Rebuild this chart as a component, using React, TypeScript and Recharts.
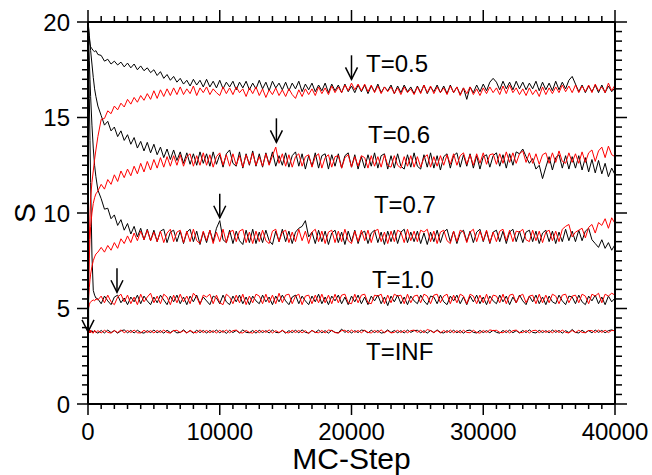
import { LineChart, Line, XAxis, YAxis, ReferenceDot, Label } from 'recharts'

// MC steps (dense at the start, then every 250)
const steps = [
  0, 50, 100, 150, 200, 300, 400, 500, 600, 750,
  1000, 1250, 1500, 1750, 2000, 2250, 2500, 2750,
  3000, 3250, 3500, 3750, 4000, 4250, 4500, 4750,
  5000, 5250, 5500, 5750, 6000, 6250, 6500, 6750,
  7000, 7250, 7500, 7750, 8000, 8250, 8500, 8750,
  9000, 9250, 9500, 9750, 10000, 10250, 10500, 10750,
  11000, 11250, 11500, 11750, 12000, 12250, 12500, 12750,
  13000, 13250, 13500, 13750, 14000, 14250, 14500, 14750,
  15000, 15250, 15500, 15750, 16000, 16250, 16500, 16750,
  17000, 17250, 17500, 17750, 18000, 18250, 18500, 18750,
  19000, 19250, 19500, 19750, 20000, 20250, 20500, 20750,
  21000, 21250, 21500, 21750, 22000, 22250, 22500, 22750,
  23000, 23250, 23500, 23750, 24000, 24250, 24500, 24750,
  25000, 25250, 25500, 25750, 26000, 26250, 26500, 26750,
  27000, 27250, 27500, 27750, 28000, 28250, 28500, 28750,
  29000, 29250, 29500, 29750, 30000, 30250, 30500, 30750,
  31000, 31250, 31500, 31750, 32000, 32250, 32500, 32750,
  33000, 33250, 33500, 33750, 34000, 34250, 34500, 34750,
  35000, 35250, 35500, 35750, 36000, 36250, 36500, 36750,
  37000, 37250, 37500, 37750, 38000, 38250, 38500, 38750,
  39000, 39250, 39500, 39750, 40000,
]

// T=0.5
const blackT05 = [
  20, 19.55, 19.15, 18.85, 18.7, 18.6, 18.5, 18.45, 18.5, 18.3,
  18.25, 17.95, 18.05, 17.8, 17.95, 17.75, 17.9, 17.65,
  17.85, 17.6, 17.8, 17.5, 17.7, 17.45, 17.6, 17.35,
  17.5, 17.2, 17.4, 17.05, 17.25, 16.95, 17.15, 16.85,
  17.05, 16.75, 16.95, 16.65, 17.0, 16.7, 16.95, 16.6,
  17.0, 16.6, 16.9, 16.55, 16.95, 16.5, 16.85, 16.6,
  16.9, 16.45, 16.85, 16.55, 16.9, 16.45, 16.8, 16.5,
  16.95, 16.5, 16.85, 16.4, 16.9, 16.55, 16.8, 16.45,
  16.85, 16.4, 16.8, 16.5, 16.9, 16.35, 16.75, 16.45,
  16.8, 16.35, 16.7, 16.4, 16.8, 16.3, 16.75, 16.4,
  16.7, 16.3, 16.75, 16.35, 16.65, 16.3, 16.7, 16.35,
  16.7, 16.25, 16.65, 16.35, 16.75, 16.3, 16.6, 16.4,
  16.7, 16.25, 16.65, 16.3, 16.7, 16.35, 16.6, 16.25,
  16.65, 16.3, 16.7, 16.25, 16.6, 16.35, 16.7, 16.3,
  16.65, 16.25, 16.7, 16.3, 16.6, 16.2, 16.55, 15.95,
  16.6, 16.3, 16.7, 16.35, 16.75, 16.4, 16.85, 17.05,
  16.85, 16.45, 16.9, 16.5, 16.85, 16.45, 16.9, 16.5,
  16.85, 16.45, 16.8, 16.5, 16.9, 16.4, 16.85, 16.45,
  16.8, 16.4, 16.9, 16.45, 16.85, 16.5, 16.95, 17.15,
  16.75, 16.35, 16.7, 16.3, 16.65, 16.35, 16.7, 16.3,
  16.7, 16.3, 16.65, 16.35, 16.55,
]
const redT05 = [
  4.8, 6.8, 8.6, 9.9, 10.8, 11.6, 12.2, 12.8, 13.3, 14.0,
  14.9, 14.95, 15.35, 15.2, 15.6, 15.4, 15.75, 15.55,
  15.95, 15.7, 16.05, 15.8, 16.15, 15.9, 16.25, 15.95,
  16.4, 16.0, 16.45, 16.1, 16.5, 16.15, 16.55, 16.2,
  16.6, 16.2, 16.5, 16.25, 16.65, 16.15, 16.55, 16.3,
  16.6, 16.2, 16.5, 16.3, 16.15, 16.6, 16.25, 16.55,
  16.2, 16.6, 16.3, 16.5, 16.1, 16.55, 16.25, 16.6,
  16.15, 16.5, 16.05, 16.45, 16.2, 16.55, 16.15, 16.45,
  16.1, 16.5, 16.2, 16.0, 16.45, 16.1, 16.5, 16.2,
  16.5, 16.15, 16.6, 16.25, 16.55, 16.2, 16.65, 16.3,
  16.6, 16.3, 16.7, 16.4, 16.8, 16.45, 16.75, 16.4,
  16.75, 16.35, 16.7, 16.3, 16.65, 16.25, 16.6, 16.35,
  16.6, 16.25, 16.55, 16.2, 16.6, 16.3, 16.5, 16.2,
  16.6, 16.25, 16.7, 16.3, 16.65, 16.25, 16.6, 16.3,
  16.55, 16.2, 16.65, 16.3, 16.6, 16.15, 16.55, 16.25,
  16.6, 16.2, 16.5, 16.15, 16.55, 16.25, 16.6, 16.3,
  16.55, 16.2, 16.65, 16.25, 16.7, 16.3, 16.55, 16.2,
  16.5, 16.15, 16.55, 16.2, 16.45, 16.1, 16.6, 16.2,
  16.55, 16.25, 16.6, 16.3, 16.7, 16.35, 16.65, 16.3,
  16.7, 16.3, 16.65, 16.35, 16.7, 16.3, 16.75, 16.4,
  16.6, 16.3, 16.8, 16.4, 16.7,
]

// T=0.6
const blackT06 = [
  20, 19.7, 19.3, 18.9, 18.5, 17.8, 17.1, 16.5, 16.1, 15.6,
  15.1, 14.6, 14.8, 14.3, 14.5, 14.0, 14.3, 13.8,
  14.1, 13.6, 13.95, 13.4, 13.75, 13.25, 13.7, 13.15,
  13.6, 13.05, 13.45, 12.9, 13.35, 12.8, 13.3, 12.75,
  13.2, 12.6, 13.15, 12.55, 13.1, 12.5, 13.2, 12.6,
  13.1, 12.45, 13.2, 12.55, 13.05, 12.4, 13.1, 13.3,
  12.6, 12.45, 13.2, 12.35, 13.1, 12.5, 13.25, 12.45,
  13.1, 12.4, 13.15, 12.55, 13.2, 12.45, 13.0, 12.5,
  13.15, 12.4, 13.0, 13.2, 12.45, 13.1, 12.3, 13.0,
  12.45, 13.15, 12.35, 13.0, 13.1, 12.3, 13.05, 12.45,
  13.1, 12.35, 13.0, 13.15, 12.4, 13.05, 12.3, 12.95,
  12.35, 13.05, 12.45, 13.15, 12.35, 13.0, 13.1, 12.3,
  13.0, 12.35, 13.1, 12.45, 12.3, 13.05, 12.4, 13.15,
  12.45, 12.3, 13.05, 12.4, 13.15, 12.35, 13.0, 12.25,
  12.95, 13.1, 12.35, 13.0, 13.15, 12.4, 13.05, 12.45,
  13.1, 12.35, 13.0, 12.3, 12.95, 13.05, 12.4, 13.0,
  13.15, 12.45, 13.05, 12.35, 13.1, 12.5, 13.2, 13.1,
  13.35, 12.95, 12.6, 12.85, 12.3, 12.5, 11.8, 12.4,
  12.95, 12.25, 12.9, 13.05, 12.35, 13.0, 12.3, 12.95,
  12.35, 13.0, 12.25, 12.9, 12.15, 12.8, 12.1, 12.75,
  12.05, 12.6, 11.9, 12.35, 12.0,
]
const redT06 = [
  4.8, 6.3, 7.6, 8.6, 9.3, 10.0, 10.5, 10.8, 11.0, 11.15,
  11.5, 11.25, 11.75, 11.5, 12.0, 11.65, 12.2, 11.85,
  12.3, 11.95, 12.45, 12.05, 12.6, 12.15, 12.7, 12.25,
  12.8, 12.35, 12.9, 12.4, 12.95, 12.45, 13.0, 12.5,
  13.05, 12.45, 12.95, 13.1, 12.45, 13.0, 12.5, 13.15,
  12.5, 13.05, 12.4, 12.95, 13.15, 12.5, 13.05, 12.45,
  13.1, 12.5, 13.0, 12.4, 13.05, 12.55, 13.15, 12.5,
  12.95, 12.45, 13.1, 12.5, 13.0, 13.45, 12.6, 13.1,
  12.45, 13.05, 12.4, 12.95, 13.1, 12.45, 12.95, 13.05,
  12.4, 12.95, 13.1, 12.35, 12.9, 13.05, 12.4, 12.95,
  13.0, 12.35, 12.9, 13.05, 12.4, 12.95, 12.45, 13.0,
  12.9, 12.35, 13.0, 12.45, 12.95, 12.4, 13.05, 12.5,
  12.4, 13.0, 12.5, 12.35, 12.95, 12.45, 13.0, 12.4,
  12.95, 12.4, 12.9, 13.05, 12.4, 12.95, 12.45, 13.0,
  12.5, 13.05, 12.55, 13.1, 12.5, 13.0, 13.15, 12.55,
  13.05, 12.5, 13.1, 12.6, 13.15, 12.55, 13.05, 13.1,
  12.55, 13.1, 12.6, 13.2, 12.65, 13.15, 12.6, 13.1,
  13.25, 12.65, 13.15, 12.6, 13.1, 12.55, 13.05, 13.15,
  12.6, 13.15, 12.65, 13.25, 12.7, 12.6, 13.15, 12.65,
  13.1, 12.6, 13.2, 12.65, 13.15, 13.3, 12.7, 13.25,
  13.45, 12.9, 13.5, 13.05, 12.95,
]

// T=0.7
const blackT07 = [
  20, 19.0, 18.0, 17.0, 16.1, 14.6, 13.4, 12.5, 11.9, 11.2,
  10.75, 10.2, 10.25, 9.7, 9.9, 9.35, 9.65, 9.1,
  9.45, 8.9, 9.3, 8.75, 9.2, 8.6, 9.15, 8.55,
  9.1, 8.5, 9.05, 9.15, 8.45, 9.0, 9.1, 8.5,
  9.05, 8.4, 9.0, 9.15, 8.5, 9.05, 8.35, 9.0,
  8.45, 9.1, 8.5, 9.2, 9.6, 8.6, 8.45, 9.1,
  8.4, 9.05, 8.55, 8.35, 9.1, 8.45, 9.15, 8.4,
  9.0, 8.45, 9.1, 8.55, 8.35, 9.05, 8.5, 9.15,
  8.5, 9.05, 8.4, 9.0, 9.2, 9.3, 9.6, 8.75,
  9.0, 8.4, 9.1, 8.5, 9.05, 8.35, 8.95, 9.1,
  8.45, 9.0, 8.35, 9.05, 8.5, 9.1, 8.4, 8.95,
  9.05, 8.4, 8.95, 9.1, 8.45, 9.0, 8.35, 9.05,
  8.5, 9.1, 8.4, 9.0, 9.15, 8.45, 9.0, 8.5,
  9.05, 8.4, 8.95, 8.35, 9.0, 8.5, 9.1, 8.45,
  9.0, 9.15, 8.5, 9.05, 8.4, 8.95, 9.1, 8.5,
  9.05, 8.45, 9.0, 9.15, 8.5, 9.05, 8.4, 9.0,
  9.1, 8.5, 9.05, 8.4, 9.0, 9.15, 8.5, 9.05,
  8.45, 9.0, 9.1, 8.5, 9.05, 8.4, 8.95, 9.1,
  8.5, 9.05, 8.4, 9.0, 8.5, 9.15, 8.55, 9.05,
  8.5, 9.1, 8.55, 9.05, 9.2, 8.6, 8.4, 8.2,
  8.6, 8.15, 8.45, 8.05, 8.35,
]
const redT07 = [
  4.8, 5.6, 6.1, 6.5, 6.8, 7.2, 7.5, 7.7, 7.85, 7.95,
  8.2, 7.95, 8.3, 8.05, 8.45, 8.15, 8.65, 8.4,
  8.8, 8.45, 8.95, 8.55, 9.05, 8.6, 9.1, 8.55,
  9.0, 8.5, 9.05, 8.45, 8.95, 9.15, 8.5, 9.0,
  9.1, 8.45, 9.05, 8.5, 9.15, 8.55, 8.4, 9.05,
  8.55, 9.1, 8.4, 9.0, 8.5, 9.15, 8.45, 9.0,
  9.1, 8.5, 9.05, 9.15, 8.45, 9.0, 8.4, 9.05,
  8.5, 9.1, 8.55, 8.4, 9.05, 9.15, 8.5, 9.0,
  9.1, 8.45, 9.0, 8.5, 9.15, 8.55, 9.05, 8.4,
  9.0, 9.15, 8.5, 9.05, 8.4, 9.0, 9.1, 8.45,
  9.05, 8.5, 9.15, 8.55, 8.4, 9.05, 8.5, 9.1,
  8.55, 9.1, 8.45, 9.05, 9.15, 8.5, 9.0, 8.4,
  9.05, 8.5, 9.1, 9.0, 8.45, 9.15, 8.55, 9.05,
  8.5, 9.1, 9.0, 9.15, 8.5, 9.05, 8.4, 9.0,
  9.1, 8.55, 8.4, 9.05, 8.5, 9.1, 9.0, 8.45,
  9.0, 9.15, 8.5, 9.05, 8.55, 9.1, 8.45, 9.0,
  8.5, 9.05, 9.15, 8.55, 9.1, 8.5, 9.05, 9.0,
  9.15, 8.6, 8.5, 9.1, 8.55, 9.05, 8.45, 9.0,
  9.1, 8.55, 9.05, 8.5, 9.15, 9.3, 9.4, 8.75,
  9.0, 9.1, 9.2, 8.7, 9.25, 9.4, 8.95, 9.5,
  9.35, 9.7, 9.2, 9.75, 9.45,
]

// T=1.0
const blackT10 = [
  20, 18.0, 16.0, 13.8, 11.6, 7.8, 5.95, 5.7, 5.55, 5.5,
  5.25, 5.65, 5.4, 5.2, 5.6, 5.7, 5.3, 5.55,
  5.2, 5.6, 5.35, 5.7, 5.25, 5.65, 5.4, 5.2,
  5.6, 5.3, 5.7, 5.45, 5.2, 5.65, 5.35, 5.7,
  5.25, 5.6, 5.2, 5.65, 5.35, 5.7, 5.25, 5.6,
  5.4, 5.2, 5.65, 5.55, 5.25, 5.7, 5.35, 5.2,
  5.65, 5.35, 5.7, 5.25, 5.6, 5.2, 5.65, 5.4,
  5.25, 5.7, 5.35, 5.6, 5.2, 5.65, 5.35, 5.7,
  5.4, 5.2, 5.6, 5.7, 5.25, 5.65, 5.4, 5.2,
  5.65, 5.35, 5.75, 5.25, 5.6, 5.2, 5.65, 5.4,
  5.7, 5.25, 5.6, 5.2, 5.65, 5.35, 5.7, 5.25,
  5.6, 5.2, 5.65, 5.4, 5.7, 5.25, 5.6, 5.15,
  5.65, 5.35, 5.7, 5.25, 5.6, 5.2, 5.65, 5.4,
  5.25, 5.7, 5.4, 5.2, 5.65, 5.6, 5.25, 5.7,
  5.35, 5.2, 5.65, 5.4, 5.7, 5.25, 5.6, 5.2,
  5.65, 5.35, 5.7, 5.25, 5.6, 5.2, 5.65, 5.4,
  5.25, 5.7, 5.35, 5.65, 5.2, 5.6, 5.3, 5.7,
  5.4, 5.2, 5.65, 5.35, 5.7, 5.25, 5.6, 5.2,
  5.65, 5.35, 5.25, 5.7, 5.4, 5.2, 5.65, 5.6,
  5.25, 5.7, 5.35, 5.2, 5.65, 5.4, 5.7, 5.25,
  5.6, 5.2, 5.65, 5.35, 5.55,
]
const redT10 = [
  4.8, 5.05, 5.2, 5.3, 5.35, 5.4, 5.45, 5.4, 5.5, 5.45,
  5.65, 5.3, 5.7, 5.35, 5.2, 5.6, 5.75, 5.35,
  5.7, 5.25, 5.6, 5.2, 5.75, 5.35, 5.6, 5.8,
  5.3, 5.65, 5.25, 5.75, 5.6, 5.2, 5.7, 5.3,
  5.75, 5.35, 5.65, 5.25, 5.8, 5.6, 5.2, 5.7,
  5.6, 5.75, 5.25, 5.7, 5.3, 5.2, 5.75, 5.6,
  5.25, 5.7, 5.3, 5.75, 5.2, 5.65, 5.3, 5.75,
  5.65, 5.25, 5.75, 5.3, 5.7, 5.25, 5.8, 5.3,
  5.7, 5.75, 5.25, 5.65, 5.75, 5.2, 5.65, 5.7,
  5.25, 5.7, 5.3, 5.75, 5.3, 5.7, 5.25, 5.75,
  5.3, 5.7, 5.75, 5.3, 5.25, 5.75, 5.3, 5.7,
  5.75, 5.3, 5.25, 5.7, 5.65, 5.75, 5.25, 5.7,
  5.3, 5.75, 5.65, 5.7, 5.25, 5.75, 5.3, 5.65,
  5.7, 5.3, 5.75, 5.65, 5.25, 5.7, 5.75, 5.3,
  5.65, 5.75, 5.25, 5.7, 5.3, 5.75, 5.65, 5.25,
  5.75, 5.65, 5.25, 5.7, 5.3, 5.75, 5.25, 5.7,
  5.65, 5.3, 5.75, 5.25, 5.7, 5.75, 5.3, 5.65,
  5.75, 5.3, 5.65, 5.7, 5.25, 5.75, 5.3, 5.7,
  5.3, 5.75, 5.65, 5.25, 5.7, 5.75, 5.3, 5.65,
  5.7, 5.3, 5.75, 5.65, 5.25, 5.75, 5.65, 5.8,
  5.3, 5.75, 5.65, 5.8, 5.7,
]

// T=INF
const blackTInf = [
  20, 3.8, 3.72, 3.86, 3.74, 3.84, 3.72, 3.85, 3.76, 3.71,
  3.85, 3.72, 3.87, 3.74, 3.84, 3.71, 3.83, 3.88,
  3.73, 3.85, 3.72, 3.86, 3.75, 3.71, 3.84, 3.74,
  3.87, 3.73, 3.84, 3.71, 3.86, 3.74, 3.85, 3.72,
  3.75, 3.88, 3.73, 3.84, 3.71, 3.86, 3.74, 3.85,
  3.72, 3.85, 3.75, 3.87, 3.73, 3.84, 3.7, 3.86,
  3.74, 3.85, 3.72, 3.88, 3.75, 3.73, 3.85, 3.71,
  3.86, 3.74, 3.84, 3.72, 3.87, 3.75, 3.73, 3.85,
  3.71, 3.84, 3.74, 3.86, 3.73, 3.88, 3.75, 3.72,
  3.85, 3.74, 3.87, 3.73, 3.84, 3.71, 3.86, 3.75,
  3.73, 3.92, 3.75, 3.85, 3.72, 3.84, 3.74, 3.87,
  3.84, 3.72, 3.86, 3.74, 3.85, 3.71, 3.75, 3.88,
  3.74, 3.85, 3.73, 3.84, 3.72, 3.87, 3.75, 3.84,
  3.86, 3.73, 3.84, 3.71, 3.85, 3.74, 3.88, 3.75,
  3.72, 3.84, 3.74, 3.86, 3.73, 3.85, 3.71, 3.84,
  3.87, 3.75, 3.72, 3.85, 3.74, 3.84, 3.73, 3.86,
  3.75, 3.71, 3.85, 3.74, 3.87, 3.73, 3.84, 3.72,
  3.85, 3.74, 3.88, 3.75, 3.72, 3.86, 3.74, 3.84,
  3.73, 3.87, 3.75, 3.85, 3.71, 3.84, 3.74, 3.9,
  3.75, 3.72, 3.86, 3.74, 3.84, 3.73, 3.87, 3.75,
  3.85, 3.73, 3.84, 3.88, 3.82,
]
const redTInf = [
  3.7, 3.73, 3.86, 3.72, 3.87, 3.75, 3.71, 3.86, 3.74, 3.84,
  3.72, 3.86, 3.75, 3.71, 3.85, 3.74, 3.88, 3.73,
  3.85, 3.74, 3.87, 3.73, 3.72, 3.86, 3.74, 3.84,
  3.72, 3.85, 3.74, 3.87, 3.75, 3.71, 3.84, 3.86,
  3.74, 3.84, 3.71, 3.86, 3.75, 3.73, 3.88, 3.74,
  3.85, 3.73, 3.84, 3.72, 3.86, 3.75, 3.87, 3.73,
  3.84, 3.87, 3.74, 3.72, 3.85, 3.75, 3.71, 3.86,
  3.73, 3.85, 3.75, 3.88, 3.72, 3.84, 3.74, 3.86,
  3.75, 3.72, 3.86, 3.74, 3.85, 3.73, 3.84, 3.68,
  3.86, 3.75, 3.73, 3.85, 3.72, 3.87, 3.84, 3.74,
  3.71, 3.84, 3.86, 3.73, 3.87, 3.75, 3.85, 3.73,
  3.86, 3.75, 3.72, 3.85, 3.74, 3.88, 3.73, 3.84,
  3.72, 3.75, 3.86, 3.74, 3.85, 3.73, 3.84, 3.87,
  3.75, 3.86, 3.73, 3.9, 3.84, 3.74, 3.85, 3.72,
  3.85, 3.74, 3.87, 3.73, 3.84, 3.72, 3.86, 3.75,
  3.73, 3.86, 3.75, 3.71, 3.85, 3.74, 3.88, 3.84,
  3.86, 3.75, 3.73, 3.85, 3.72, 3.84, 3.87, 3.74,
  3.74, 3.85, 3.72, 3.84, 3.86, 3.73, 3.85, 3.75,
  3.84, 3.73, 3.86, 3.74, 3.87, 3.75, 3.72, 3.85,
  3.74, 3.86, 3.75, 3.73, 3.85, 3.84, 3.74, 3.87,
  3.75, 3.86, 3.74, 3.85, 3.84,
]

// annotations: arrow tips and temperature labels (data coordinates)
const arrowX = [20000, 14300, 10000, 2200, 0]
const arrowY = [17.0, 13.7, 9.75, 5.85, 3.78]
const tempLabels = ['T=0.5', 'T=0.6', 'T=0.7', 'T=1.0', 'T=INF']
const labelX = [21100, 21250, 21700, 21550, 21100]
const labelY = [17.38, 13.66, 10.0, 6.07, 2.3]

const xMajor = [0, 10000, 20000, 30000, 40000]
const yMajor = [0, 5, 10, 15, 20]
const xTicks = Array.from({ length: 41 }, (_, i) => i * 1000)
const yTicks = Array.from({ length: 41 }, (_, i) => i * 0.5)

const data = steps.map((x, i) => ({
  x,
  b05: blackT05[i], r05: redT05[i],
  b06: blackT06[i], r06: redT06[i],
  b07: blackT07[i], r07: redT07[i],
  b10: blackT10[i], r10: redT10[i],
  binf: blackTInf[i], rinf: redTInf[i],
}))

const FONT = '"Liberation Sans", Arial, Helvetica, sans-serif'

// eslint-disable-next-line @typescript-eslint/no-explicit-any
function BottomTick({ x, y, payload }: any) {
  const major = xMajor.includes(payload.value)
  return (
    <g>
      <line x1={x} y1={y} x2={x} y2={y + (major ? 11 : 5)} stroke="#000" strokeWidth={1.5} />
      {major && (
        <text x={x} y={y + 36} textAnchor="middle" fontSize={24} fontFamily={FONT} fill="#000">
          {payload.value}
        </text>
      )}
    </g>
  )
}

// eslint-disable-next-line @typescript-eslint/no-explicit-any
function TopTick({ x, y, payload }: any) {
  const major = xMajor.includes(payload.value)
  return <line x1={x} y1={y} x2={x} y2={y - (major ? 12 : 6)} stroke="#000" strokeWidth={1.5} />
}

// eslint-disable-next-line @typescript-eslint/no-explicit-any
function LeftTick({ x, y, payload }: any) {
  const major = yMajor.includes(payload.value)
  return (
    <g>
      <line x1={x} y1={y} x2={x - (major ? 11 : 6)} y2={y} stroke="#000" strokeWidth={1.5} />
      {major && (
        <text x={x - 18} y={y + 8.5} textAnchor="end" fontSize={24} fontFamily={FONT} fill="#000">
          {payload.value}
        </text>
      )}
    </g>
  )
}

// eslint-disable-next-line @typescript-eslint/no-explicit-any
function RightTick({ x, y, payload }: any) {
  const major = yMajor.includes(payload.value)
  return <line x1={x} y1={y} x2={x + (major ? 12 : 7)} y2={y} stroke="#000" strokeWidth={1.5} />
}

// eslint-disable-next-line @typescript-eslint/no-explicit-any
function Arrow({ cx, cy }: any) {
  return (
    <g>
      <line x1={cx} y1={cy - 24} x2={cx} y2={cy} stroke="#000" strokeWidth={1.5} />
      <polyline points={`${cx - 6},${cy - 12} ${cx},${cy} ${cx + 6},${cy - 12}`} fill="none" stroke="#000" strokeWidth={1.5} />
    </g>
  )
}

// eslint-disable-next-line @typescript-eslint/no-explicit-any
function YTitle({ viewBox }: any) {
  const cx = viewBox.x + viewBox.width - 64
  const cy = viewBox.y + viewBox.height / 2
  return (
    <text x={cx} y={cy} transform={`rotate(-90, ${cx}, ${cy})`} textAnchor="middle" dominantBaseline="central"
      fontSize={30} fontFamily={FONT} fill="#000">S</text>
  )
}

const axisLine = { stroke: '#000', strokeWidth: 2 }

export default function App() {
  return (
    <div style={{ position: 'absolute', left: 0, top: 0, width: 652, height: 475, background: '#fff' }}>
      <LineChart width={652} height={475} data={data} margin={{ top: 21, right: 36, bottom: 70, left: 87 }}>
        <XAxis xAxisId="b" dataKey="x" type="number" domain={[0, 40000]} allowDataOverflow ticks={xTicks}
          interval={0} height={1} tickSize={0} tickMargin={0} tick={<BottomTick />} axisLine={axisLine} tickLine={false}>
          <Label value="MC-Step" position="bottom" offset={43} fontSize={30} fontFamily={FONT} fill="#000" />
        </XAxis>
        <XAxis xAxisId="t" orientation="top" dataKey="x" type="number" domain={[0, 40000]} allowDataOverflow ticks={xTicks}
          interval={0} height={1} tickSize={0} tickMargin={0} tick={<TopTick />} axisLine={axisLine} tickLine={false} />
        <YAxis yAxisId="l" type="number" domain={[0, 20]} allowDataOverflow ticks={yTicks}
          interval={0} width={1} tickSize={0} tickMargin={0} tick={<LeftTick />} axisLine={axisLine} tickLine={false}>
          <Label content={<YTitle />} />
        </YAxis>
        <YAxis yAxisId="r" orientation="right" type="number" domain={[0, 20]} allowDataOverflow ticks={yTicks}
          interval={0} width={1} tickSize={0} tickMargin={0} tick={<RightTick />} axisLine={axisLine} tickLine={false} />

        {['b05', 'b06', 'b07', 'b10', 'binf'].map(k => (
          <Line key={k} xAxisId="b" yAxisId="l" dataKey={k} stroke="#000" strokeWidth={1} dot={false} isAnimationActive={false} />
        ))}
        {['r05', 'r06', 'r07', 'r10', 'rinf'].map(k => (
          <Line key={k} xAxisId="b" yAxisId="l" dataKey={k} stroke="#ff0000" strokeWidth={1} dot={false} isAnimationActive={false} />
        ))}

        {arrowX.map((ax, i) => (
          <ReferenceDot key={`a${i}`} xAxisId="b" yAxisId="l" x={ax} y={arrowY[i]} r={0} shape={<Arrow />} />
        ))}
        {tempLabels.map((t, i) => (
          <ReferenceDot key={`l${i}`} xAxisId="b" yAxisId="l" x={labelX[i]} y={labelY[i]} r={0}
            // eslint-disable-next-line @typescript-eslint/no-explicit-any
            shape={(p: any) => (
              <text x={p.cx} y={p.cy} fontSize={24} fontFamily={FONT} fill="#000">{t}</text>
            )} />
        ))}
      </LineChart>
    </div>
  )
}
